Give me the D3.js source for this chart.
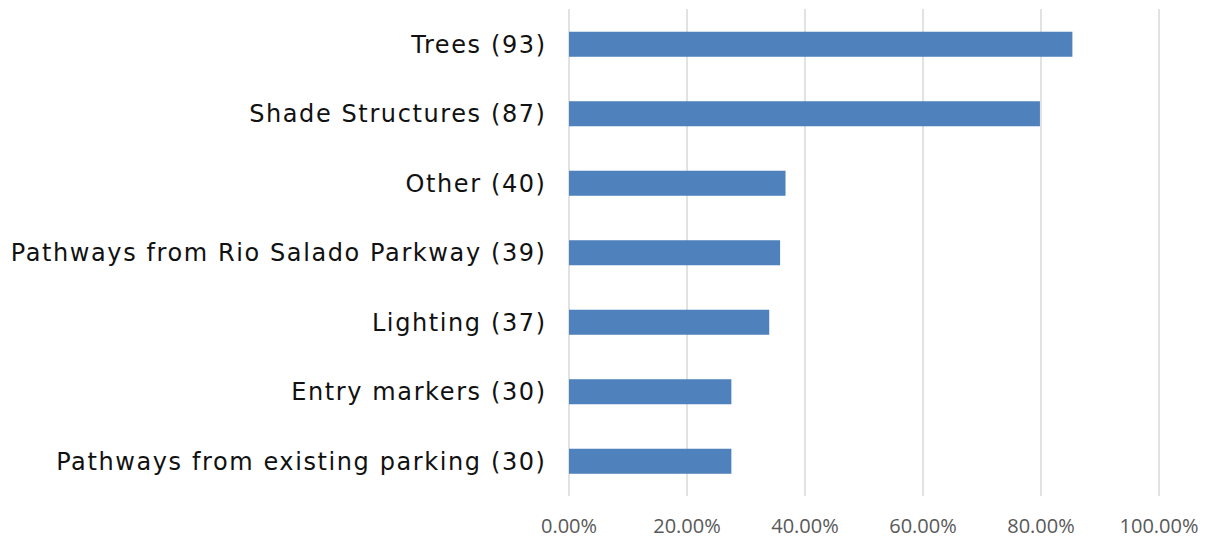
<!DOCTYPE html>
<html><head><meta charset="utf-8">
<script src="https://cdn.jsdelivr.net/npm/d3@7"></script>
<style>body{margin:0;background:#fff}</style>
</head><body><svg id="c" width="1208" height="538"></svg>
<script>
const categories = ["Trees (93)","Shade Structures (87)","Other (40)","Pathways from Rio Salado Parkway (39)","Lighting (37)","Entry markers (30)","Pathways from existing parking (30)"];
const values = [85.32, 79.82, 36.70, 35.78, 33.94, 27.52, 27.52];
const ticks = [0,20,40,60,80,100];

const svg = d3.select("#c");
const m = {l:569, r:1159, t:9.5, b:496};
const x = d3.scaleLinear().domain([0,100]).range([m.l, m.r]);
const y = d3.scaleBand().domain(categories).range([m.t, m.b]).paddingInner(0.64).paddingOuter(0.32);

svg.append("g").selectAll("line").data(ticks).join("line")
  .attr("x1", d=>x(d)).attr("x2", d=>x(d)).attr("y1", 9).attr("y2", 496)
  .attr("stroke", "#d9d9d9").attr("stroke-width", 1.5);

svg.append("g").selectAll("rect").data(values).join("rect")
  .attr("x", x(0)).attr("y", (d,i)=>y(categories[i]))
  .attr("width", d=>x(d)-x(0)).attr("height", y.bandwidth())
  .attr("fill", "#4f81bd");

svg.append("g").selectAll("text").data(categories).join("text")
  .attr("x", 546.6).attr("y", d=>y(d)+y.bandwidth()/2)
  .attr("dy","0.36em").attr("text-anchor","end")
  .attr("font-family","'DejaVu Sans', sans-serif").attr("font-size", 24)
  .attr("letter-spacing", 1.6).attr("fill","#111")
  .text(d=>d);

svg.append("g").selectAll("text").data(ticks).join("text")
  .attr("x", d=>x(d)).attr("y", 533).attr("text-anchor","middle")
  .attr("font-family","'Open Sans', sans-serif").attr("font-size", 20).attr("fill","#595959")
  .text(d=>d3.format(".2f")(d)+"%");
</script></body></html>
